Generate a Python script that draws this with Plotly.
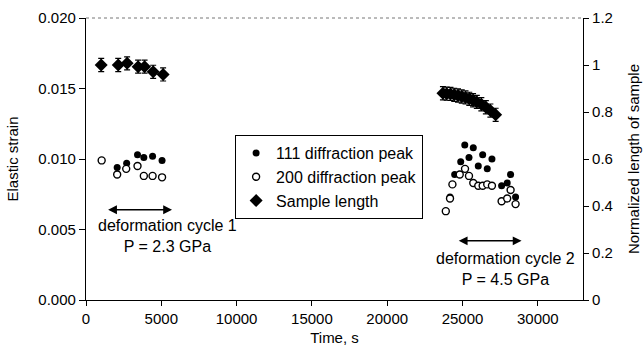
import plotly.graph_objects as go

# ---- data ----
# cycle 1
t111_c1 = [2070, 2700, 3420, 3840, 4420, 5050]
e111_c1 = [0.0094, 0.0097, 0.0103, 0.0101, 0.0102, 0.0099]
t200_c1 = [1040, 2070, 2670, 3420, 3840, 4420, 5050]
e200_c1 = [0.0099, 0.0089, 0.0093, 0.0095, 0.0088, 0.0088, 0.0087]
tlen_c1 = [1010, 2140, 2730, 3460, 3890, 4460, 5120]
len_c1 = [1.000, 1.000, 1.007, 0.993, 0.993, 0.971, 0.960]

# cycle 2
t111_c2 = [23890, 24170, 24480, 24880, 25150, 25430, 25715, 26046, 26338, 26642, 26954,
           27596, 27967, 28192, 28523]
e111_c2 = [0.0063, 0.0073, 0.0089, 0.0098, 0.0110, 0.0101, 0.0108, 0.0095, 0.0103, 0.0093,
           0.0100, 0.0081, 0.0083, 0.0089, 0.0073]
t200_c2 = [23890, 24170, 24330, 24815, 25166, 25430, 25715, 26046, 26338, 26642, 26954,
           27596, 27967, 28192, 28523]
e200_c2 = [0.0063, 0.0072, 0.0082, 0.0089, 0.0093, 0.0088, 0.0083, 0.0081, 0.0081, 0.0082,
           0.0081, 0.0070, 0.0072, 0.0078, 0.0068]
tlen_c2 = [23700, 23950, 24200, 24450, 24700, 24950, 25200, 25450, 25700, 25950, 26250,
           26550, 26850, 27200]
len_c2 = [0.880, 0.878, 0.877, 0.873, 0.870, 0.866, 0.862, 0.856, 0.850, 0.843, 0.833,
          0.820, 0.806, 0.788]

len_err = 0.028

t111 = t111_c1 + t111_c2
e111 = e111_c1 + e111_c2
t200 = t200_c1 + t200_c2
e200 = e200_c1 + e200_c2
tlen = tlen_c1 + tlen_c2
nlen = len_c1 + len_c2

x_ticks = [0, 5000, 10000, 15000, 20000, 25000, 30000]

FONT = "Liberation Sans, Arial, sans-serif"

fig = go.Figure()
fig.add_trace(go.Scatter(
    x=t111, y=e111, mode="markers", name="111 diffraction peak",
    marker=dict(symbol="circle", size=7, color="black", line=dict(width=0)),
))
fig.add_trace(go.Scatter(
    x=t200, y=e200, mode="markers", name="200 diffraction peak",
    marker=dict(symbol="circle", size=7, color="white", line=dict(width=1.4, color="black")),
))
fig.add_trace(go.Scatter(
    x=tlen, y=nlen, mode="markers", name="Sample length", yaxis="y2",
    marker=dict(symbol="diamond", size=10, color="black", line=dict(width=0)),
    error_y=dict(type="constant", value=len_err, color="black", thickness=1.2, width=3),
))

fig.update_layout(
    width=643, height=356,
    margin=dict(l=86, r=60, t=18, b=56),
    paper_bgcolor="white", plot_bgcolor="white",
    font=dict(family=FONT, size=15, color="black"),
    showlegend=True,
    legend=dict(
        x=0.30, y=0.585, xanchor="left", yanchor="top",
        bordercolor="black", borderwidth=1, bgcolor="white",
        font=dict(size=16), itemwidth=30, tracegroupgap=0,
    ),
    xaxis=dict(
        range=[0, 33000], tickvals=x_ticks, tickformat="d", showgrid=False, zeroline=False,
        showline=True, linecolor="black", linewidth=1.2, automargin=False,
        ticks="outside", ticklen=5, tickcolor="black",
        title=dict(text="Time, s", standoff=6, font=dict(size=15)),
        tickfont=dict(size=15),
    ),
    yaxis=dict(
        range=[0, 0.020], dtick=0.005, tickformat=".3f", showgrid=False, zeroline=False,
        showline=True, linecolor="black", linewidth=1.2, automargin=False,
        ticks="outside", ticklen=6, tickcolor="black",
        title=dict(text="Elastic strain", standoff=16, font=dict(size=15)),
        tickfont=dict(size=15),
    ),
    yaxis2=dict(
        range=[0, 1.2], dtick=0.2, overlaying="y", side="right",
        showgrid=False, zeroline=False, automargin=False,
        showline=True, linecolor="black", linewidth=1.2,
        ticks="outside", ticklen=5, tickcolor="black",
        title=dict(text="Normalized length of sample", standoff=16, font=dict(size=15)),
        tickfont=dict(size=15),
    ),
    yaxis3=dict(
        range=[0, 1.2], dtick=0.2, overlaying="y", side="right",
        showgrid=False, zeroline=False, showline=False, automargin=False,
        ticks="inside", ticklen=5, tickcolor="black", showticklabels=False,
    ),
)

# dotted top border
fig.add_shape(type="line", xref="paper", yref="paper", x0=0, x1=1, y0=1, y1=1,
              line=dict(color="#777777", width=1, dash="dot"))

# double-headed arrows marking deformation cycles
for (xa, xb, yv) in [(1370, 5710, 0.0064), (24650, 28920, 0.0042)]:
    fig.add_annotation(x=xb, y=yv, ax=xa, ay=yv, xref="x", yref="y", axref="x", ayref="y",
                       text="", showarrow=True, arrowhead=2, arrowsize=1.1, arrowwidth=1.6,
                       arrowside="end+start", arrowcolor="black")

fig.add_annotation(x=5400, y=0.00452, xref="x", yref="y", showarrow=False,
                   text="deformation cycle 1<br>P = 2.3 GPa", font=dict(size=16),
                   xanchor="center", yanchor="middle")
fig.add_annotation(x=27860, y=0.00218, xref="x", yref="y", showarrow=False,
                   text="deformation cycle 2<br>P = 4.5 GPa", font=dict(size=16),
                   xanchor="center", yanchor="middle")

fig.write_html("out.html")
